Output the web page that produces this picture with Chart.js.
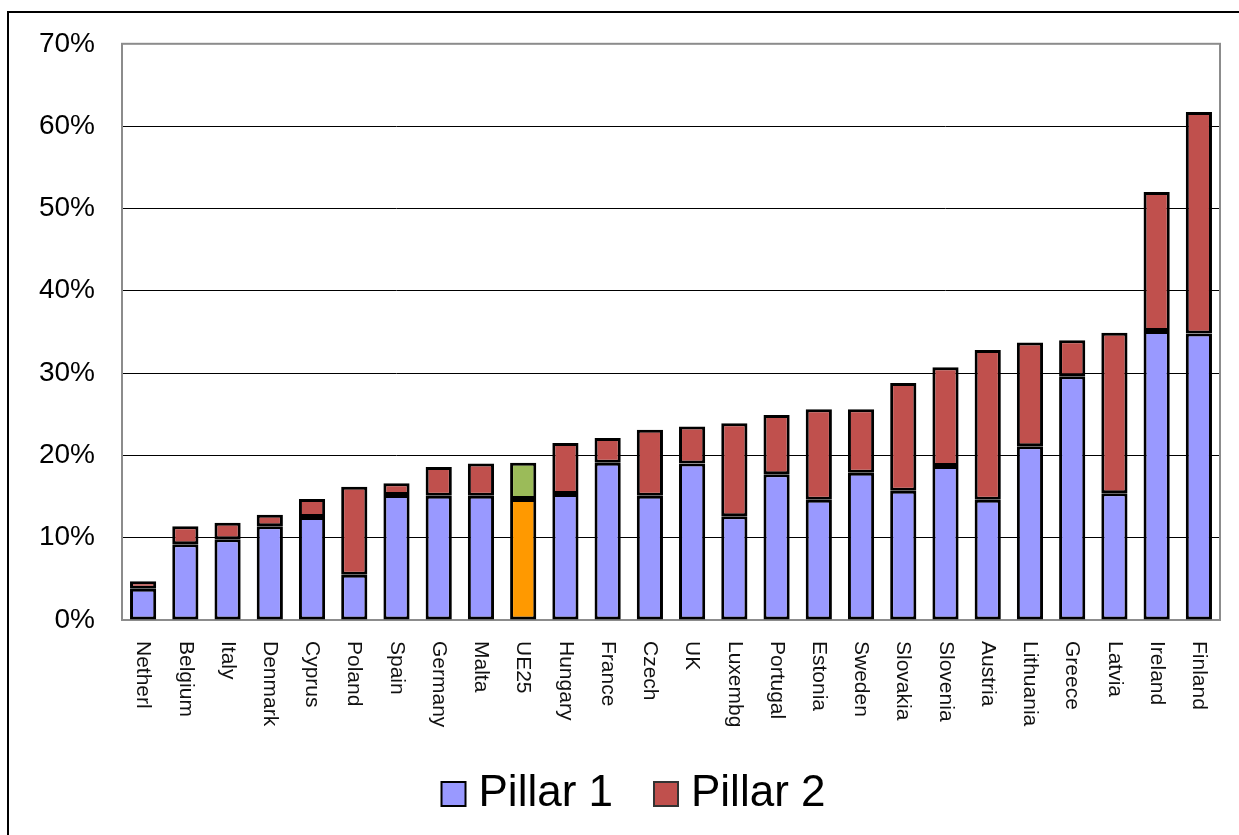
<!DOCTYPE html>
<html>
<head>
<meta charset="utf-8">
<script src="https://cdn.jsdelivr.net/npm/chart.js@4"></script>
<style>
  body { margin: 0; background: #fff; }
  #wrap { width: 1239px; height: 835px; }
</style>
</head>
<body>
<div id="wrap"><canvas id="barcanvas" width="1239" height="835"></canvas></div>
<script>
var countries = ['Netherl', 'Belgium', 'Italy', 'Denmark', 'Cyprus', 'Poland', 'Spain', 'Germany', 'Malta', 'UE25',
    'Hungary', 'France', 'Czech', 'UK', 'Luxembg', 'Portugal', 'Estonia', 'Sweden', 'Slovakia', 'Slovenia',
    'Austria', 'Lithuania', 'Greece', 'Latvia', 'Ireland', 'Finland'];
var pillar1 = [3.8, 9.2, 9.8, 11.4, 12.5, 5.5, 15.2, 15.1, 15.1, 14.7,
    15.3, 19.1, 15.1, 19.0, 12.6, 17.7, 14.6, 17.9, 15.7, 18.7,
    14.6, 21.1, 29.6, 15.4, 35.1, 34.8];
var pillar2 = [0.9, 2.2, 2.0, 1.4, 2.2, 10.7, 1.4, 3.5, 3.9, 4.4,
    6.2, 3.0, 8.0, 4.5, 11.3, 7.2, 11.0, 7.7, 13.1, 12.0,
    18.2, 12.6, 4.4, 19.5, 16.9, 26.9];
var yTicks = [0, 10, 20, 30, 40, 50, 60, 70];

var p1Colors = countries.map(function (c) { return c === 'UE25' ? '#FF9900' : '#9999FF'; });
var p2Colors = countries.map(function (c) { return c === 'UE25' ? '#9BBB59' : '#C0504D'; });

// rotated category names (clockwise, reading top to bottom) + frame + plot border
var decorPlugin = {
    id: 'decor',
    beforeDraw: function (chart) {
        // legend sits a bit right of centre in the original
        var lg = chart.legend;
        if (lg && !lg._shifted) {
            lg.left += 28;
            lg.right += 28;
            lg._shifted = true;
        }
    },
    beforeDatasetsDraw: function (chart) {
        var a = chart.chartArea, ctx = chart.ctx;
        ctx.save();
        ctx.strokeStyle = '#8c8c8c';
        ctx.lineWidth = 2;
        ctx.strokeRect(a.left, a.top, a.right - a.left, a.bottom - a.top);
        ctx.restore();
    },
    afterDraw: function (chart) {
        var ctx = chart.ctx, x = chart.scales.x;
        ctx.save();
        ctx.strokeStyle = '#000';
        ctx.lineWidth = 2;
        ctx.strokeRect(8, 12, 1300, 900);
        ctx.fillStyle = '#111';
        ctx.font = '21px "Liberation Sans", Arial, sans-serif';
        ctx.textAlign = 'left';
        ctx.textBaseline = 'middle';
        countries.forEach(function (name, i) {
            ctx.save();
            ctx.translate(x.getPixelForValue(i), chart.chartArea.bottom + 21);
            ctx.rotate(Math.PI / 2);
            ctx.fillText(name, 0, 0);
            ctx.restore();
        });
        ctx.restore();
    }
};

var barChartData = {
    labels: countries,
    datasets: [{
        label: 'Pillar 1',
        data: pillar1,
        backgroundColor: p1Colors,
        borderColor: '#000',
        borderWidth: 3,
        borderSkipped: false
    }, {
        label: 'Pillar 2',
        data: pillar2,
        backgroundColor: p2Colors,
        borderColor: '#000',
        borderWidth: 3,
        borderSkipped: false
    }]
};

var options = {
    responsive: false,
    animation: false,
    datasets: { bar: { barPercentage: 0.62, categoryPercentage: 1.0 } },
    layout: { padding: { top: 42, right: 19, left: 0, bottom: 9 } },
    plugins: {
        tooltip: { enabled: false },
        legend: {
            position: 'bottom',
            labels: {
                color: '#000',
                font: { family: '"Liberation Sans", Arial, sans-serif', size: 44 },
                usePointStyle: true,
                pointStyle: 'rect',
                boxWidth: 6,
                boxHeight: 24,
                padding: 50,
                generateLabels: function (chart) {
                    return chart.data.datasets.map(function (ds, i) {
                        return {
                            text: ds.label,
                            fillStyle: i === 0 ? '#9999FF' : '#C0504D',
                            strokeStyle: i === 0 ? '#000' : '#333',
                            lineWidth: 2,
                            pointStyle: 'rect',
                            datasetIndex: i
                        };
                    });
                }
            }
        }
    },
    scales: {
        x: {
            stacked: true,
            grid: { display: false },
            border: { display: false },
            ticks: { display: false },
            afterFit: function (scale) { scale.height = 102; }
        },
        y: {
            stacked: true,
            min: 0,
            max: 70,
            afterBuildTicks: function (scale) {
                scale.ticks = yTicks.map(function (v) { return { value: v }; });
            },
            ticks: {
                color: '#000',
                padding: 27,
                font: { family: '"Liberation Sans", Arial, sans-serif', size: 28 },
                callback: function (v) { return v + '%'; }
            },
            grid: { color: '#000', lineWidth: 1, drawTicks: false },
            border: { display: false },
            afterFit: function (scale) { scale.width = 122; }
        }
    }
};

var ctx1 = document.getElementById('barcanvas').getContext('2d');
window.myBar = new Chart(ctx1, {
    type: 'bar',
    data: barChartData,
    options: options,
    plugins: [decorPlugin]
});
</script>
</body>
</html>
